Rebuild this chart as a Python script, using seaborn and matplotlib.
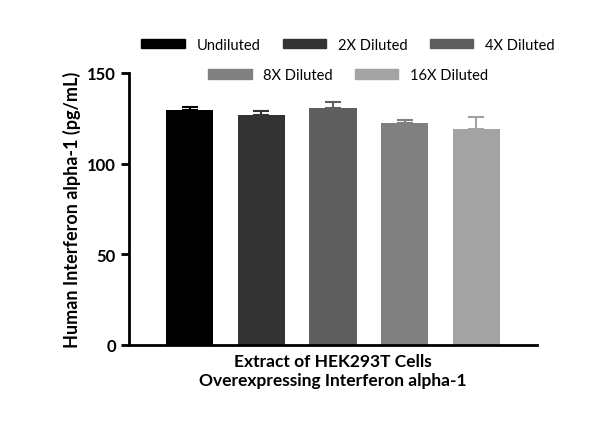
import matplotlib
matplotlib.use("Agg")
import matplotlib.pyplot as plt
import seaborn as sns
import pandas as pd

groups = ["Undiluted", "2X Diluted", "4X Diluted", "8X Diluted", "16X Diluted"]
means = [129.8, 126.8, 130.5, 122.2, 119.0]
sds = [1.5, 2.0, 3.3, 2.0, 6.8]
colors = ["#000000", "#333333", "#5f5f5f", "#808080", "#a3a3a3"]

df = pd.DataFrame({"g": groups, "v": means})
plt.rcParams["font.family"] = "Lato"
fig = plt.figure(figsize=(6, 4.35), dpi=100)
ax = fig.add_axes([0.215, 0.205, 0.68, 0.625])
sns.barplot(data=df, x="g", y="v", hue="g", palette=colors, dodge=False,
            width=0.66, ax=ax, legend=False)
for i, (m, s) in enumerate(zip(means, sds)):
    ax.errorbar(i, m, yerr=[[0], [s]], color=colors[i], capsize=6, capthick=1.5, elinewidth=1.5)
ax.set_ylim(0, 150)
ax.set_xlim(-0.85, 4.85)
ax.set_yticks([0, 50, 100, 150])
ax.set_xticks([])
ax.tick_params(axis="y", labelsize=12, width=2, length=6)
for t in ax.get_yticklabels():
    t.set_fontweight("bold")
ax.spines[["top", "right"]].set_visible(False)
ax.spines["left"].set_linewidth(2)
ax.spines["bottom"].set_linewidth(2)
ax.set_ylabel("Human Interferon alpha-1 (pg/mL)", fontsize=13, fontweight="bold")
ax.set_xlabel("Extract of HEK293T Cells\nOverexpressing Interferon alpha-1", fontsize=12.5,
              fontweight="bold", labelpad=6)
from matplotlib.patches import Patch
handles = [Patch(color=c, label=g) for c, g in zip(colors, groups)]
fig.legend(handles=handles[:3], loc="center", bbox_to_anchor=(0.58, 0.895), ncol=3,
           frameon=False, fontsize=10.5, handlelength=3, handleheight=0.6, columnspacing=1.5)
fig.legend(handles=handles[3:], loc="center", bbox_to_anchor=(0.58, 0.825), ncol=2,
           frameon=False, fontsize=10.5, handlelength=3, handleheight=0.6, columnspacing=1.5)
fig.savefig("out.png", dpi=100)
